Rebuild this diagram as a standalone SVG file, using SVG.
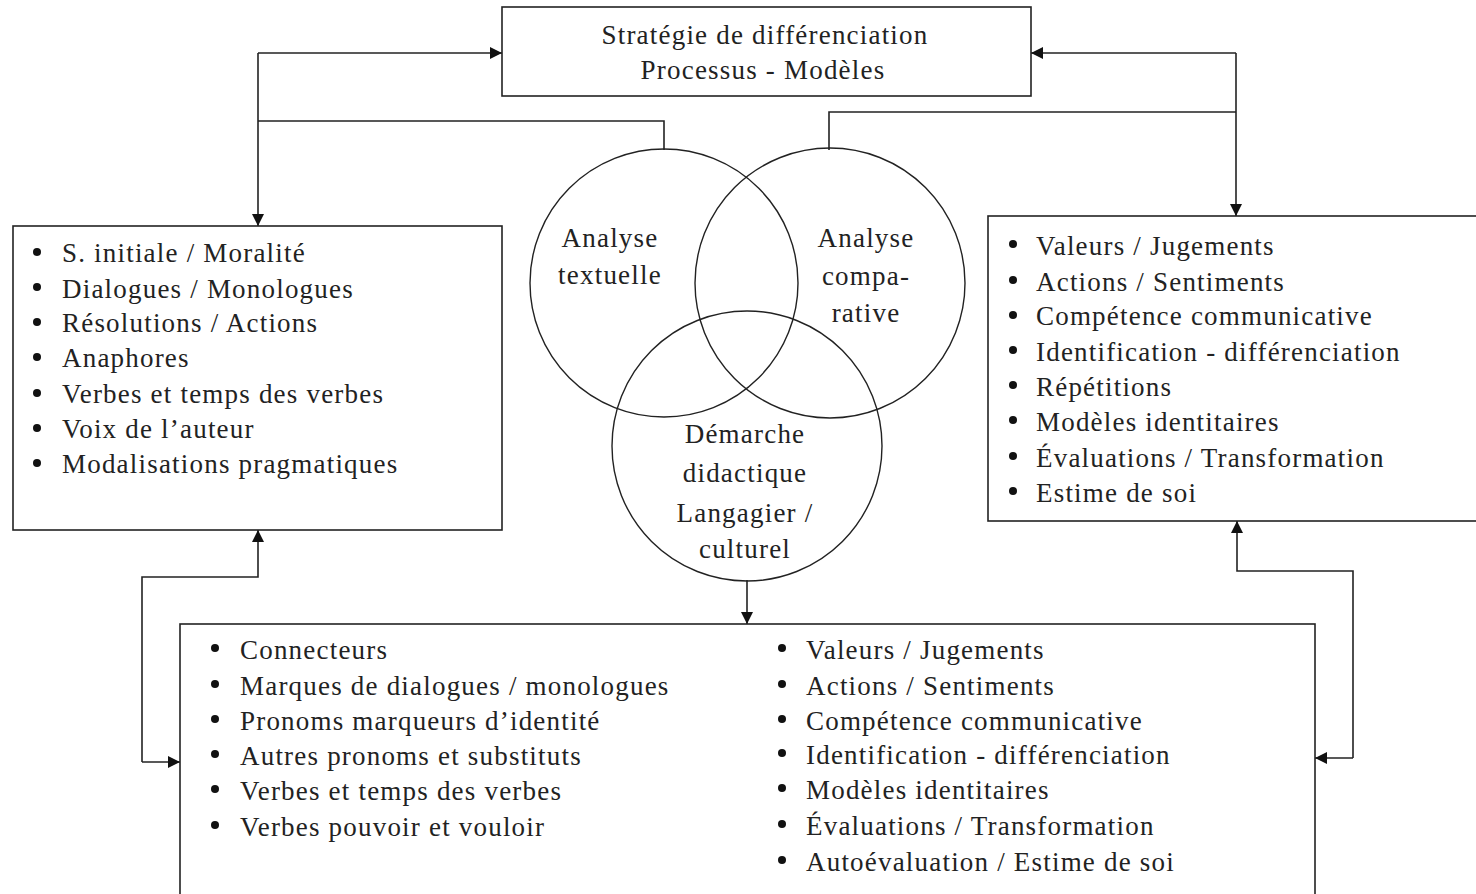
<svg xmlns="http://www.w3.org/2000/svg" width="1476" height="894" viewBox="0 0 1476 894">
  <style>
    .box { fill: #fff; stroke: #222; stroke-width: 1.6; }
    .ring { fill: none; stroke: #222; stroke-width: 1.4; }
    .wire { fill: none; stroke: #222; stroke-width: 1.6; }
    .t { font-family: 'Liberation Serif', 'DejaVu Serif', serif; font-size: 27px; fill: #222; letter-spacing: 1.2px; }
    .c { text-anchor: middle; }
    .dot { fill: #111; }
  </style>
  <defs>
    <marker id="arrow" viewBox="0 0 12 12" refX="12" refY="6" markerWidth="12" markerHeight="12" markerUnits="userSpaceOnUse" orient="auto">
      <path d="M0,0 L12,6 L0,12 Z" fill="#111"/>
    </marker>
  </defs>

  <rect width="1476" height="894" fill="#fff"/>

  <!-- connectors -->
  <g id="connectors">
    <!-- left loop: strategy box <-> left list -->
    <polyline class="wire" points="258,53 502,53" marker-end="url(#arrow)"/>
    <polyline class="wire" points="258,53 258,226" marker-end="url(#arrow)"/>
    <polyline class="wire" points="258,121 664,121 664,150"/>
    <!-- right loop: strategy box <-> right list -->
    <polyline class="wire" points="1236,53 1031,53" marker-end="url(#arrow)"/>
    <polyline class="wire" points="1236,53 1236,216" marker-end="url(#arrow)"/>
    <polyline class="wire" points="1236,112 829,112 829,150"/>
    <!-- venn to bottom list -->
    <polyline class="wire" points="747,580 747,624" marker-end="url(#arrow)"/>
    <!-- bottom-left feedback -->
    <polyline class="wire" points="142,762 142,577 258,577 258,530" marker-end="url(#arrow)"/>
    <polyline class="wire" points="142,762 180,762" marker-end="url(#arrow)"/>
    <!-- bottom-right feedback -->
    <polyline class="wire" points="1353,758 1353,571 1237,571 1237,521" marker-end="url(#arrow)"/>
    <polyline class="wire" points="1353,758 1315,758" marker-end="url(#arrow)"/>
  </g>

  <g font-family="Liberation Serif, DejaVu Serif, serif">
  <!-- strategy box -->
  <g id="strategie">
    <rect class="box" x="502" y="7" width="529" height="89"/>
    <text class="t c" x="765" y="44">Stratégie de différenciation</text>
    <text class="t c" x="763" y="79">Processus - Modèles</text>
  </g>

  <!-- venn circles -->
  <g id="analyse-textuelle">
    <circle class="ring" cx="664" cy="283" r="134"/>
    <text class="t c" x="610" y="247">Analyse</text>
    <text class="t c" x="610" y="284">textuelle</text>
  </g>
  <g id="analyse-comparative">
    <circle class="ring" cx="830" cy="283" r="135"/>
    <text class="t c" x="866" y="247">Analyse</text>
    <text class="t c" x="866" y="285">compa-</text>
    <text class="t c" x="866" y="322">rative</text>
  </g>
  <g id="demarche">
    <circle class="ring" cx="747" cy="446" r="135"/>
    <text class="t c" x="745" y="443">Démarche</text>
    <text class="t c" x="745" y="482">didactique</text>
    <text class="t c" x="745" y="522">Langagier /</text>
    <text class="t c" x="745" y="558">culturel</text>
  </g>

  <!-- left list -->
  <g id="liste-gauche">
    <rect class="box" x="13" y="226" width="489" height="304"/>
    <g class="dot">
      <circle cx="37" cy="252" r="4"/>
      <circle cx="37" cy="287" r="4"/>
      <circle cx="37" cy="322" r="4"/>
      <circle cx="37" cy="357" r="4"/>
      <circle cx="37" cy="393" r="4"/>
      <circle cx="37" cy="428" r="4"/>
      <circle cx="37" cy="463" r="4"/>
    </g>
    <text class="t" x="62" y="262">S. initiale / Moralité</text>
    <text class="t" x="62" y="298">Dialogues / Monologues</text>
    <text class="t" x="62" y="332">Résolutions / Actions</text>
    <text class="t" x="62" y="367">Anaphores</text>
    <text class="t" x="62" y="403">Verbes et temps des verbes</text>
    <text class="t" x="62" y="438">Voix de l’auteur</text>
    <text class="t" x="62" y="473">Modalisations pragmatiques</text>
  </g>

  <!-- right list -->
  <g id="liste-droite">
    <rect class="box" x="988" y="216" width="500" height="305"/>
    <g class="dot">
      <circle cx="1013" cy="244" r="4"/>
      <circle cx="1013" cy="280" r="4"/>
      <circle cx="1013" cy="315" r="4"/>
      <circle cx="1013" cy="350" r="4"/>
      <circle cx="1013" cy="385" r="4"/>
      <circle cx="1013" cy="420" r="4"/>
      <circle cx="1013" cy="456" r="4"/>
      <circle cx="1013" cy="491" r="4"/>
    </g>
    <text class="t" x="1036" y="255">Valeurs / Jugements</text>
    <text class="t" x="1036" y="291">Actions / Sentiments</text>
    <text class="t" x="1036" y="325">Compétence communicative</text>
    <text class="t" x="1036" y="361">Identification - différenciation</text>
    <text class="t" x="1036" y="396">Répétitions</text>
    <text class="t" x="1036" y="431">Modèles identitaires</text>
    <text class="t" x="1036" y="467">Évaluations / Transformation</text>
    <text class="t" x="1036" y="502">Estime de soi</text>
  </g>

  <!-- bottom list -->
  <g id="liste-bas">
    <rect class="box" x="180" y="624" width="1135" height="300"/>
    <g class="dot">
      <circle cx="215" cy="648" r="4"/>
      <circle cx="215" cy="684" r="4"/>
      <circle cx="215" cy="719" r="4"/>
      <circle cx="215" cy="754" r="4"/>
      <circle cx="215" cy="789" r="4"/>
      <circle cx="215" cy="825" r="4"/>
      <circle cx="782" cy="648" r="4"/>
      <circle cx="782" cy="684" r="4"/>
      <circle cx="782" cy="719" r="4"/>
      <circle cx="782" cy="753" r="4"/>
      <circle cx="782" cy="788" r="4"/>
      <circle cx="782" cy="824" r="4"/>
      <circle cx="782" cy="860" r="4"/>
    </g>
    <text class="t" x="240" y="659">Connecteurs</text>
    <text class="t" x="240" y="695">Marques de dialogues / monologues</text>
    <text class="t" x="240" y="730">Pronoms marqueurs d’identité</text>
    <text class="t" x="240" y="765">Autres pronoms et substituts</text>
    <text class="t" x="240" y="800">Verbes et temps des verbes</text>
    <text class="t" x="240" y="836">Verbes pouvoir et vouloir</text>
    <text class="t" x="806" y="659">Valeurs / Jugements</text>
    <text class="t" x="806" y="695">Actions / Sentiments</text>
    <text class="t" x="806" y="730">Compétence communicative</text>
    <text class="t" x="806" y="764">Identification - différenciation</text>
    <text class="t" x="806" y="799">Modèles identitaires</text>
    <text class="t" x="806" y="835">Évaluations / Transformation</text>
    <text class="t" x="806" y="871">Autoévaluation / Estime de soi</text>
  </g>
  </g>
</svg>
